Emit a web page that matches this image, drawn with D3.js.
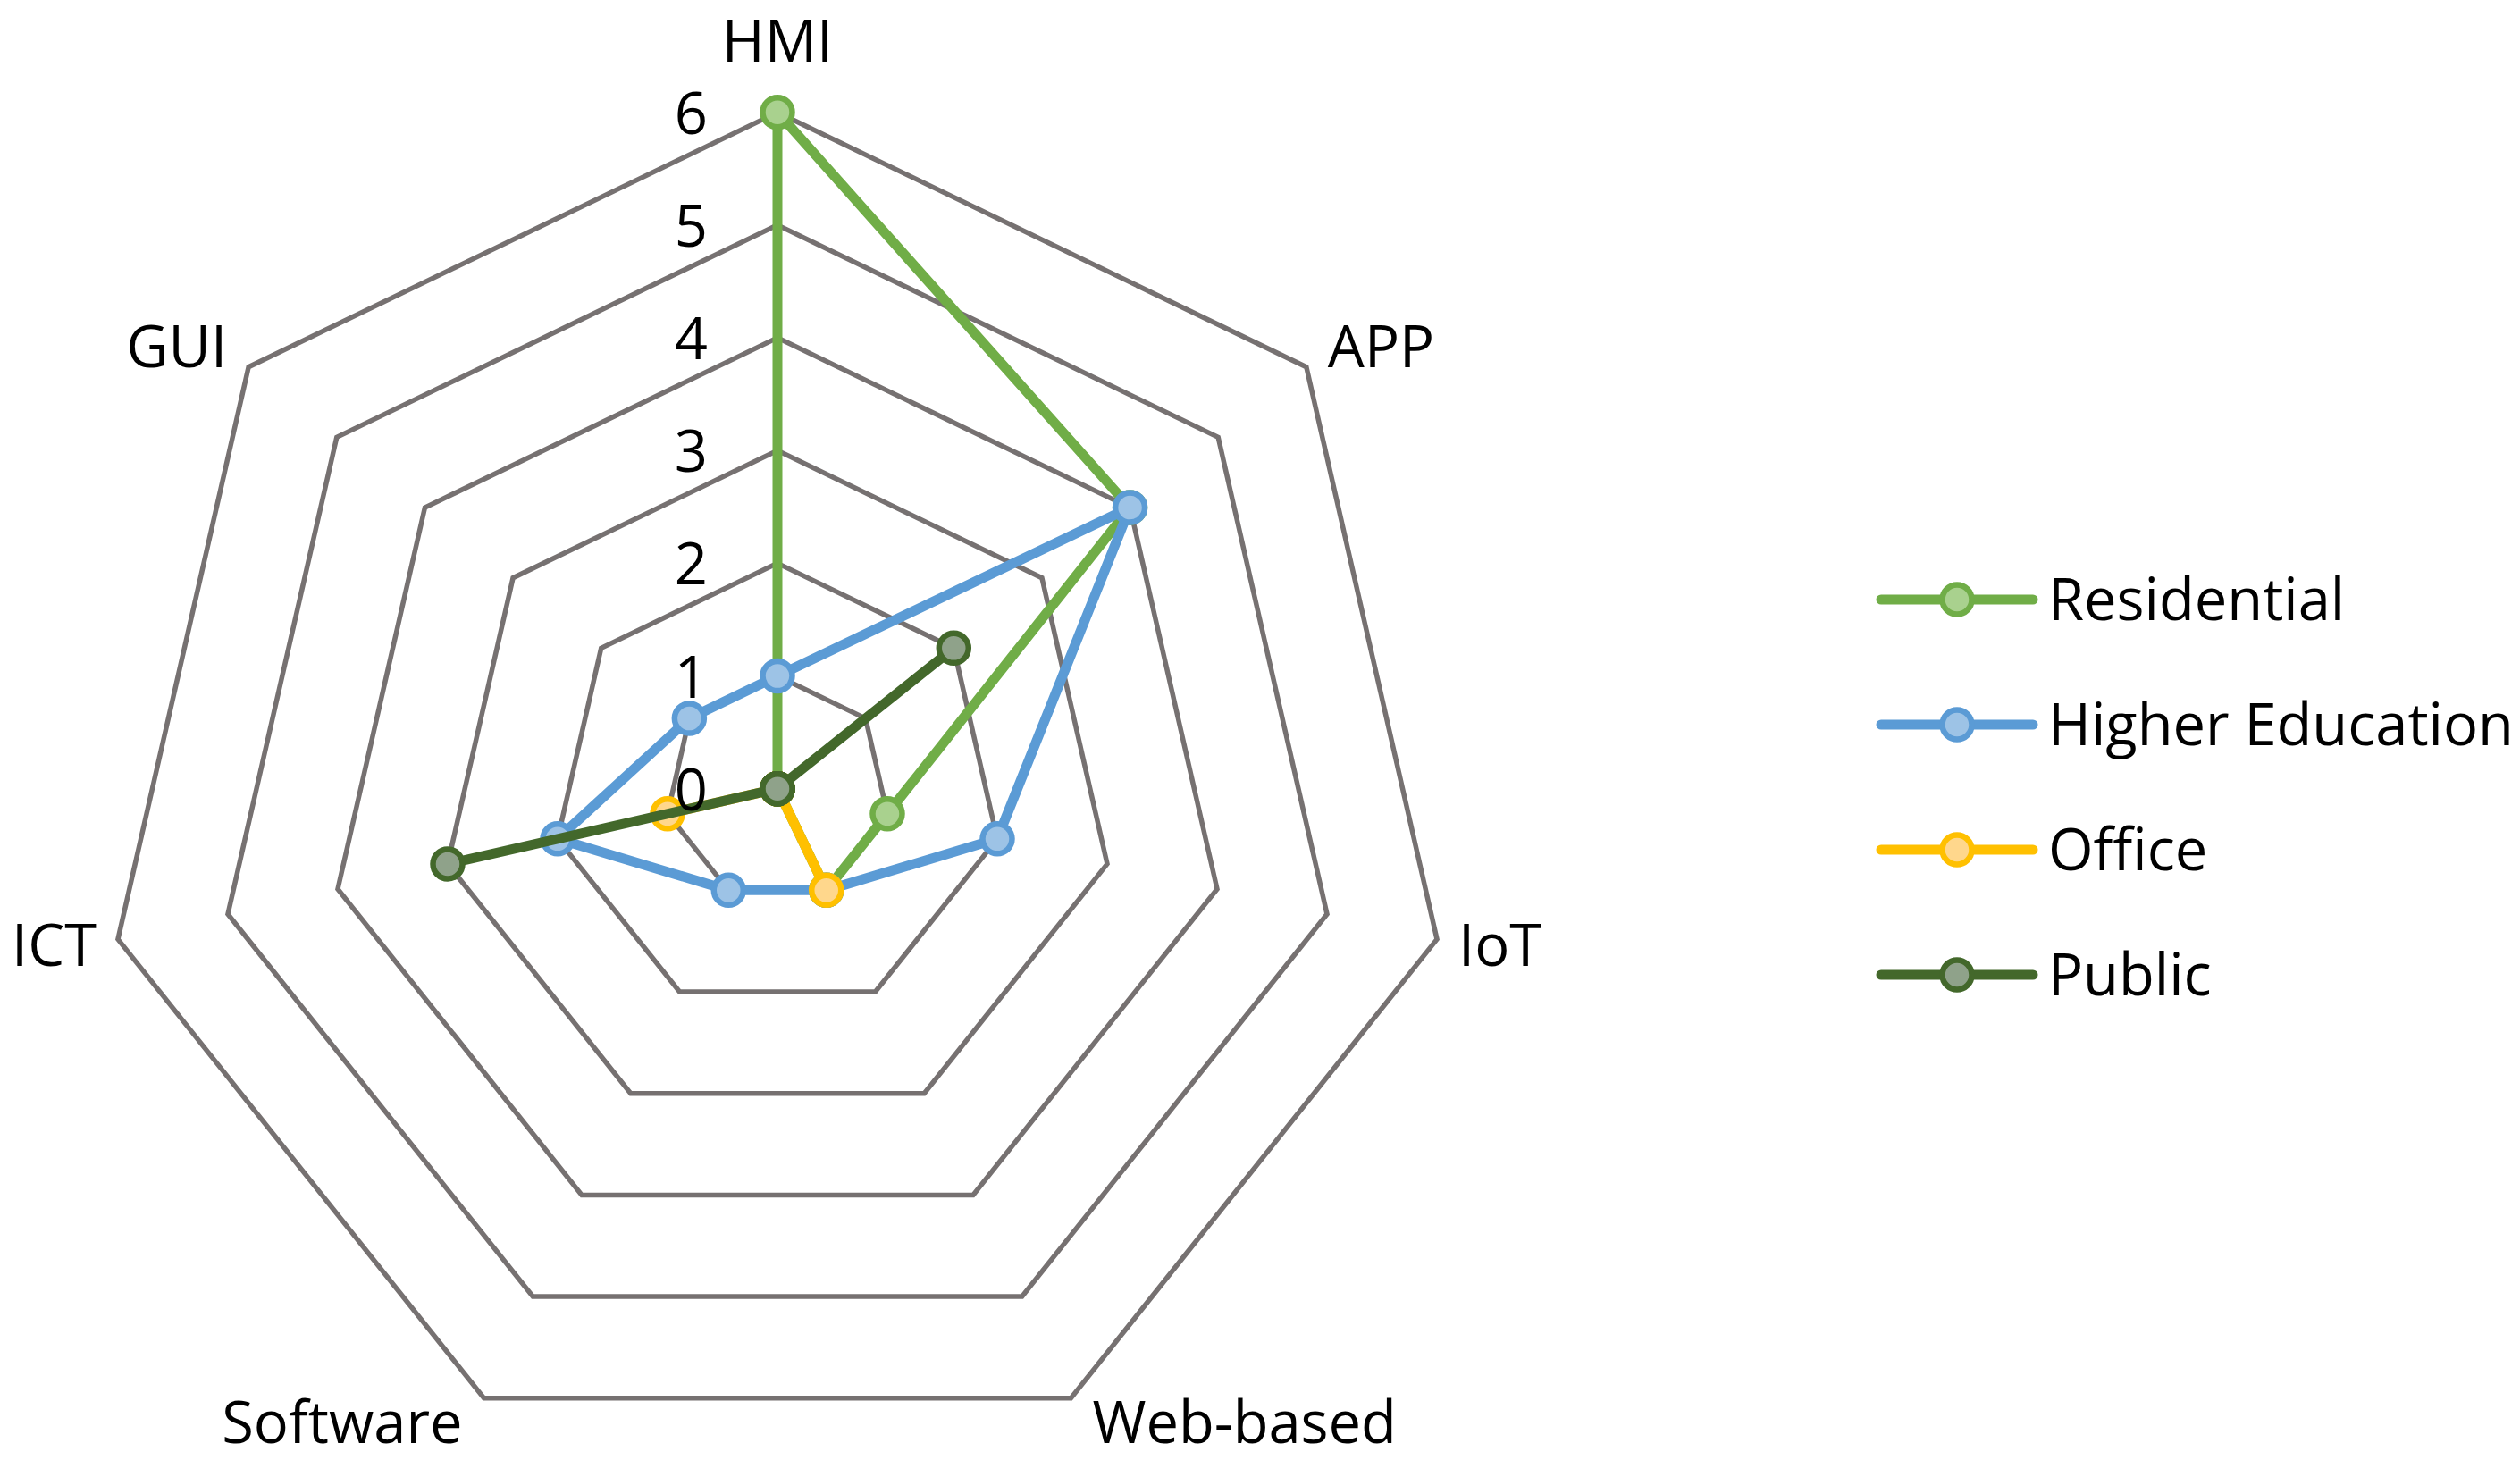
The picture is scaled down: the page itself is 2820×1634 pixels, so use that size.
<!DOCTYPE html>
<html>
<head>
<meta charset="utf-8">
<script src="https://cdn.jsdelivr.net/npm/d3@7"></script>
<style>
  html, body { margin: 0; padding: 0; background: #fff; }
  text { font-family: "Open Sans", "Liberation Sans", sans-serif; fill: #000; }
</style>
</head>
<body>
<svg id="svg" width="2820" height="1634"></svg>
<script>
// chart data
var axes = ['HMI', 'APP', 'IoT', 'Web-based', 'Software', 'ICT', 'GUI'];
var seriesNames = ['Residential', 'Higher Education', 'Office', 'Public'];
var residential = [6, 4, 1, 1, 0, 0, 0];
var higherEducation = [1, 4, 2, 1, 1, 2, 1];
var office = [0, 0, 0, 1, 0, 1, 0];
var publicSector = [0, 2, 0, 0, 0, 3, 0];
var tickValues = [0, 1, 2, 3, 4, 5, 6];

var lineColors = ['#70AD47', '#5B9BD5', '#FFC000', '#43682B'];
var fillColors = ['#A9D18E', '#9DC3E6', '#FFD78C', '#8FA28A'];

var svg = d3.select('#svg');
var cx = 870, cy = 882.7;
var r = d3.scaleLinear().domain([0, 6]).range([0, 757]);
var angle = d3.scaleLinear().domain([0, axes.length]).range([0, 2 * Math.PI]);

var allSeries = [residential, higherEducation, office, publicSector];

function pt(i, v) {
    var a = angle(i);
    return [cx + r(v) * Math.sin(a), cy - r(v) * Math.cos(a)];
}

svg.append('rect').attr('width', 2820).attr('height', 1634).attr('fill', '#fff');

// grid heptagons
var grid = svg.append('g');
tickValues.filter(function(t) { return t > 0; }).forEach(function(t) {
    var pts = axes.map(function(d, i) { return pt(i, t); });
    grid.append('polygon')
        .attr('points', pts.map(function(p) { return p.join(','); }).join(' '))
        .attr('fill', 'none')
        .attr('stroke', '#767171')
        .attr('stroke-width', 5.5)
        .attr('stroke-linejoin', 'miter');
});

// category labels
var labels = svg.append('g');
axes.forEach(function(name, i) {
    var a = angle(i);
    var p = pt(i, 6);
    var s = Math.sin(a), c = Math.cos(a);
    var anchor = s > 0.1 ? 'start' : (s < -0.1 ? 'end' : 'middle');
    var dx = s > 0.1 ? 24 : (s < -0.1 ? -24 : 0);
    var dy = c > 0.9 ? -57 : (c > 0.5 ? 0 : (c > -0.5 ? 30 : 50));
    labels.append('text')
        .attr('x', p[0] + dx)
        .attr('y', p[1] + dy)
        .attr('text-anchor', anchor)
        .attr('font-size', 65)
        .text(name);
});

// series
var line = d3.lineRadial()
    .angle(function(d, i) { return angle(i); })
    .radius(function(d) { return r(d); })
    .curve(d3.curveLinearClosed);

allSeries.forEach(function(vals, k) {
    var g = svg.append('g');
    g.append('path')
        .attr('transform', 'translate(' + cx + ',' + cy + ')')
        .attr('d', line(vals))
        .attr('fill', 'none')
        .attr('stroke', lineColors[k])
        .attr('stroke-width', 11)
        .attr('stroke-linejoin', 'round');
    g.selectAll('circle')
        .data(vals)
        .enter().append('circle')
        .attr('cx', function(d, i) { return pt(i, d)[0]; })
        .attr('cy', function(d, i) { return pt(i, d)[1]; })
        .attr('r', 16.5)
        .attr('fill', fillColors[k])
        .attr('stroke', lineColors[k])
        .attr('stroke-width', 6.5);
});

// value tick labels on top
var ticks = svg.append('g');
tickValues.forEach(function(t) {
    ticks.append('text')
        .attr('x', 792)
        .attr('y', cy - r(t) + 24)
        .attr('text-anchor', 'end')
        .attr('font-size', 65)
        .text(t);
});

// legend
var legend = svg.append('g');
seriesNames.forEach(function(name, k) {
    var y = 671 + k * 140;
    legend.append('line')
        .attr('x1', 2105).attr('x2', 2275)
        .attr('y1', y).attr('y2', y)
        .attr('stroke', lineColors[k])
        .attr('stroke-width', 11)
        .attr('stroke-linecap', 'round');
    legend.append('circle')
        .attr('cx', 2190).attr('cy', y)
        .attr('r', 16.5)
        .attr('fill', fillColors[k])
        .attr('stroke', lineColors[k])
        .attr('stroke-width', 6.5);
    legend.append('text')
        .attr('x', 2292)
        .attr('y', y + 23)
        .attr('font-size', 65)
        .text(name);
});
</script>
</body>
</html>
